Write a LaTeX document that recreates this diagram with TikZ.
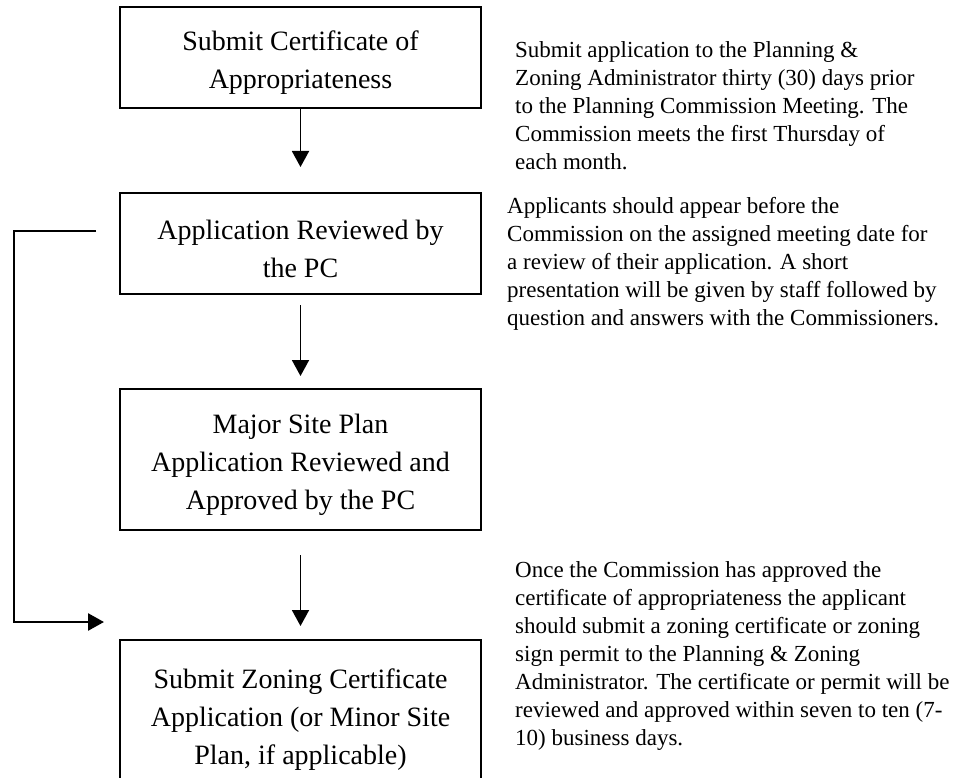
\documentclass[tikz,border=0pt]{standalone}
\usepackage{fontspec}
\setmainfont{Liberation Serif}
\usetikzlibrary{arrows.meta}
\begin{document}
\begin{tikzpicture}[x=1pt,y=-1pt,
  stepbox/.style={draw, line width=2.4pt, minimum width=361pt, inner sep=0pt},
  steptext/.style={inner sep=0pt, align=center, yshift=-5pt,
    font=\fontsize{28}{38}\selectfont},
  note/.style={anchor=north west, inner sep=0pt, align=left,
    font=\fontsize{23}{28}\selectfont},
  flow/.style={line width=1.9pt, -{Triangle[width=17pt,length=16pt]}},
  feed/.style={line width=2.6pt, line join=miter, -{Triangle[width=17pt,length=16pt]}}]
\useasboundingbox (0,0) rectangle (963,778);

% process steps: frames
\node[stepbox, minimum height=101pt] (b1) at (300.5,57.5) {};
\node[stepbox, minimum height=101pt] (b2) at (300.5,243.5) {};
\node[stepbox, minimum height=141pt] (b3) at (300.5,459.5) {};
\node[stepbox, minimum height=150pt] (b4) at (300.5,715) {};

% process steps: titles
\node[steptext] (t1) at (b1.center) {Submit Certificate of\\Appropriateness};
\node[steptext] (t2) at (b2.center) {Application Reviewed by\\the PC};
\node[steptext] (t3) at (b3.center)
  {Major Site Plan\\Application Reviewed and\\Approved by the PC};
\node[steptext] (t4) at (b4.center)
  {Submit Zoning Certificate\\Application (or Minor Site\\Plan, if applicable)};

% explanatory notes
\node[note] (n1) at (515,41)
  {Submit application to the Planning \&\\
   Zoning Administrator thirty (30) days prior\\
   to the Planning Commission Meeting. The\\
   Commission meets the first Thursday of\\
   each month.};
\node[note] (n2) at (507,197)
  {Applicants should appear before the\\
   Commission on the assigned meeting date for\\
   a review of their application. A short\\
   presentation will be given by staff followed by\\
   question and answers with the Commissioners.};
\node[note] (n3) at (515,561)
  {Once the Commission has approved the\\
   certificate of appropriateness the applicant\\
   should submit a zoning certificate or zoning\\
   sign permit to the Planning \& Zoning\\
   Administrator. The certificate or permit will be\\
   reviewed and approved within seven to ten (7-\\
   10) business days.};

% arrow end points
\coordinate (a1e) at (300.5,167);
\coordinate (a2s) at (300.5,305);
\coordinate (a2e) at (300.5,376);
\coordinate (a3s) at (300.5,555);
\coordinate (a3e) at (300.5,626);
\coordinate (fbs) at (96,231);
\coordinate (fbc1) at (14,231);
\coordinate (fbc2) at (14,622);
\coordinate (fbe) at (104,622);

% connectors
\draw[flow] (b1.south) -- (a1e);
\draw[flow] (a2s) -- (a2e);
\draw[flow] (a3s) -- (a3e);
\draw[feed] (fbs) -- (fbc1) -- (fbc2) -- (fbe);
\end{tikzpicture}
\end{document}
